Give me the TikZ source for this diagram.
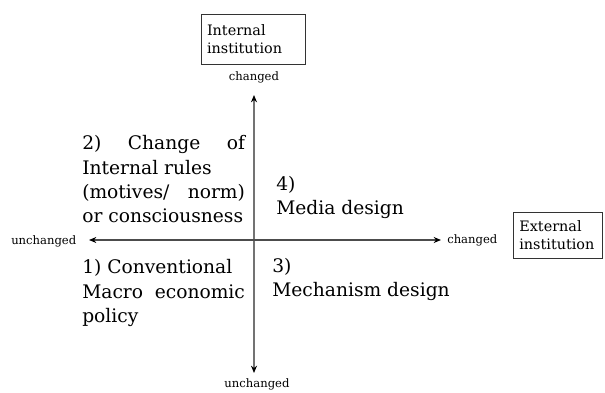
\documentclass[tikz,border=0pt]{standalone}
\usepackage{fontspec}
\setmainfont{DejaVu Serif}
\usetikzlibrary{arrows.meta}

\tikzset{
  axis/.style={line width=1pt, <->,
    >={Stealth[length=5.5pt,width=4.5pt,color=black]}},
  quad/.style={anchor=base west, inner sep=0pt, align=left,
    font=\fontsize{14}{18.2}\selectfont},
  quadj/.style={quad, text width=122pt, align=justify},
  axlbl/.style={inner sep=0pt, font=\fontsize{8.7}{10}\selectfont},
  instbox/.style={draw=black!80, line width=0.6pt, align=left, inner xsep=4.5pt,
    font=\fontsize{10.8}{13.5}\selectfont}
}

\begin{document}
\begin{tikzpicture}[x=0.75pt,y=0.75pt]
\useasboundingbox (0,0) rectangle (605,392);

% axes
\coordinate (top) at (254,297);
\coordinate (bot) at (254,19);
\coordinate (lft) at (89,152);
\coordinate (rgt) at (441,152);
\draw[axis, draw=black!55, line width=1.4pt] (bot) -- (top);
\draw[axis, draw=black!70] (lft) -- (rgt);

% axis labels
\node[axlbl, anchor=base] (chgup) at (254,311) {changed};
\node[axlbl, anchor=base] (unchdn) at (257,5) {unchanged};
\node[axlbl, anchor=base west] (unchlf) at (11,147) {unchanged};
\node[axlbl, anchor=base west] (chgrt) at (447,148) {changed};

% institutions
\node[instbox, text width=69pt, minimum height=37.5pt] (inbox) at (253,353) {Internal\\institution};
\node[instbox, text width=58pt, minimum height=34.5pt] (exbox) at (558,157) {External\\institution};

% quadrants
\node[quadj] (q2) at (82,242) {2) Change of\linebreak Internal rules\\(motives/ norm)\linebreak or consciousness};
\node[quad] (q4) at (276,177) {4)\\Media design};
\node[quadj] (q1) at (82,118) {1) Conventional\\Macro economic\linebreak policy};
\node[quad] (q3) at (272,95) {3)\\Mechanism design};
\end{tikzpicture}
\end{document}
